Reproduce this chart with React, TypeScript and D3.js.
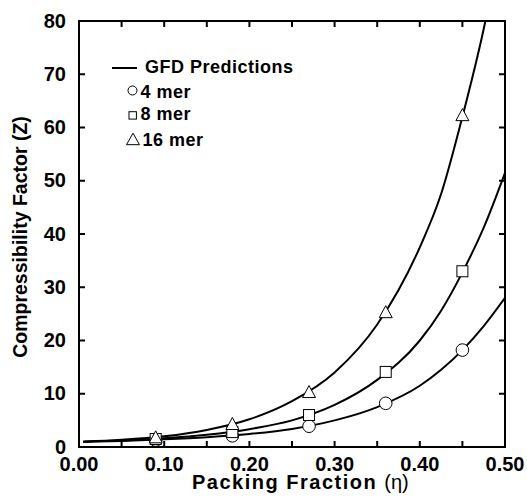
import React from "react";
import * as d3 from "d3";

const xTicks = [0, 0.1, 0.2, 0.3, 0.4, 0.5];
const yTicks = [0, 10, 20, 30, 40, 50, 60, 70, 80];
const xMinor = [0.05, 0.1, 0.15, 0.2, 0.25, 0.3, 0.35, 0.4, 0.45];

// Simulation data
const etaData = [0.09, 0.18, 0.27, 0.36, 0.45];
const mer4 = [1.3, 2.1, 3.9, 8.2, 18.2];
const mer8 = [1.5, 2.8, 6.0, 14.1, 33.0];
const mer16 = [1.8, 4.3, 10.3, 25.3, 62.3];

// GFD prediction curves
const etaCurve = [0.005, 0.05, 0.1, 0.15, 0.2, 0.25, 0.3, 0.35, 0.4, 0.425, 0.45, 0.475, 0.5];
const gfd4 = [1.0, 1.15, 1.45, 1.85, 2.45, 3.4, 5.0, 7.5, 11.5, 14.5, 18.2, 22.7, 28.0];
const gfd8 = [1.0, 1.22, 1.65, 2.3, 3.35, 5.0, 7.9, 12.6, 20.0, 25.6, 32.8, 41.2, 51.5];
const gfd16 = [1.0, 1.35, 2.0, 3.2, 5.2, 8.6, 14.0, 23.0, 37.5, 47.5, 62.0, 78.5, 99.0];

const legendLabels = ["GFD Predictions", "4 mer", "8 mer", "16 mer"];

const W = 527;
const H = 503;
const m = { left: 79, top: 21, right: 505, bottom: 447 };

export default function App() {
  const x = d3.scaleLinear().domain([0, 0.5]).range([m.left, m.right]);
  const y = d3.scaleLinear().domain([0, 80]).range([m.bottom, m.top]);
  const line = d3
    .line<[number, number]>()
    .x((d) => x(d[0]))
    .y((d) => y(d[1]))
    .curve(d3.curveMonotoneX);
  const curves = [gfd4, gfd8, gfd16].map((vals) =>
    line(etaCurve.map((e, i) => [e, vals[i]] as [number, number]))
  );
  const font = "'Liberation Sans', Arial, sans-serif";
  const tri = (cx: number, cy: number, w: number, h: number) =>
    `M${cx},${cy - h * 0.55}L${cx + w / 2},${cy + h * 0.45}L${cx - w / 2},${cy + h * 0.45}Z`;
  const tick = 6;

  return (
    <svg
      width={W}
      height={H}
      style={{ position: "absolute", left: 0, top: 0, background: "#fff" }}
      fontFamily={font}
      fontWeight="bold"
    >
      <defs>
        <clipPath id="plotclip">
          <rect x={m.left} y={m.top} width={m.right - m.left} height={m.bottom - m.top} />
        </clipPath>
      </defs>
      {/* curves */}
      <g clipPath="url(#plotclip)">
        {curves.map((d, i) => (
          <path key={i} d={d || ""} fill="none" stroke="#000" strokeWidth={2} />
        ))}
      </g>
      {/* markers */}
      {etaData.map((e, i) => (
        <circle key={"c" + i} cx={x(e)} cy={y(mer4[i])} r={6.3} fill="#fff" stroke="#000" strokeWidth={1} />
      ))}
      {etaData.map((e, i) => (
        <rect key={"s" + i} x={x(e) - 5.5} y={y(mer8[i]) - 5.5} width={11} height={11} fill="#fff" stroke="#000" strokeWidth={1} />
      ))}
      {etaData.map((e, i) => (
        <path key={"t" + i} d={tri(x(e), y(mer16[i]), 13, 12)} fill="#fff" stroke="#000" strokeWidth={1} />
      ))}
      {/* frame */}
      <rect x={m.left} y={m.top} width={m.right - m.left} height={m.bottom - m.top} fill="none" stroke="#000" strokeWidth={2} />
      {/* ticks */}
      {xMinor.map((t) => (
        <g key={"xt" + t}>
          <line x1={x(t)} x2={x(t)} y1={m.bottom} y2={m.bottom - tick} stroke="#000" strokeWidth={2} />
          <line x1={x(t)} x2={x(t)} y1={m.top} y2={m.top + tick} stroke="#000" strokeWidth={2} />
        </g>
      ))}
      {yTicks.slice(1, -1).map((t) => (
        <g key={"yt" + t}>
          <line x1={m.left} x2={m.left + tick} y1={y(t)} y2={y(t)} stroke="#000" strokeWidth={2} />
          <line x1={m.right} x2={m.right - tick} y1={y(t)} y2={y(t)} stroke="#000" strokeWidth={2} />
        </g>
      ))}
      {/* tick labels */}
      {xTicks.map((t) => (
        <text key={"xl" + t} x={x(t)} y={m.bottom + 24} textAnchor="middle" fontSize={20}>
          {t.toFixed(2)}
        </text>
      ))}
      {yTicks.map((t) => (
        <text key={"yl" + t} x={m.left - 13} y={y(t) + 6.5} textAnchor="end" fontSize={20}>
          {t}
        </text>
      ))}
      {/* axis titles */}
      <text x={192} y={489} fontSize={20} letterSpacing={1.5}>
        Packing Fraction{" "}
        <tspan fontWeight="normal" letterSpacing={0}>(η)</tspan>
      </text>
      <text
        transform={`translate(27,${(m.top + m.bottom) / 2 + 3}) rotate(-90)`}
        textAnchor="middle"
        fontSize={19.5}
      >
        Compressibility Factor (Z)
      </text>
      {/* legend */}
      <line x1={112} x2={137} y1={68} y2={68} stroke="#000" strokeWidth={2} />
      <text x={145} y={73} fontSize={18} letterSpacing={0.5}>{legendLabels[0]}</text>
      <circle cx={132.5} cy={90.5} r={4.5} fill="#fff" stroke="#000" strokeWidth={1} />
      <text x={140.5} y={97.5} fontSize={18} letterSpacing={0.5}>{legendLabels[1]}</text>
      <rect x={129} y={111.7} width={7.4} height={7.4} fill="#fff" stroke="#000" strokeWidth={1} />
      <text x={140.5} y={120} fontSize={18} letterSpacing={0.5}>{legendLabels[2]}</text>
      <path d={tri(133, 139.5, 13, 11.5)} fill="#fff" stroke="#000" strokeWidth={1} />
      <text x={142.5} y={145.5} fontSize={18} letterSpacing={0.5}>{legendLabels[3]}</text>
    </svg>
  );
}
